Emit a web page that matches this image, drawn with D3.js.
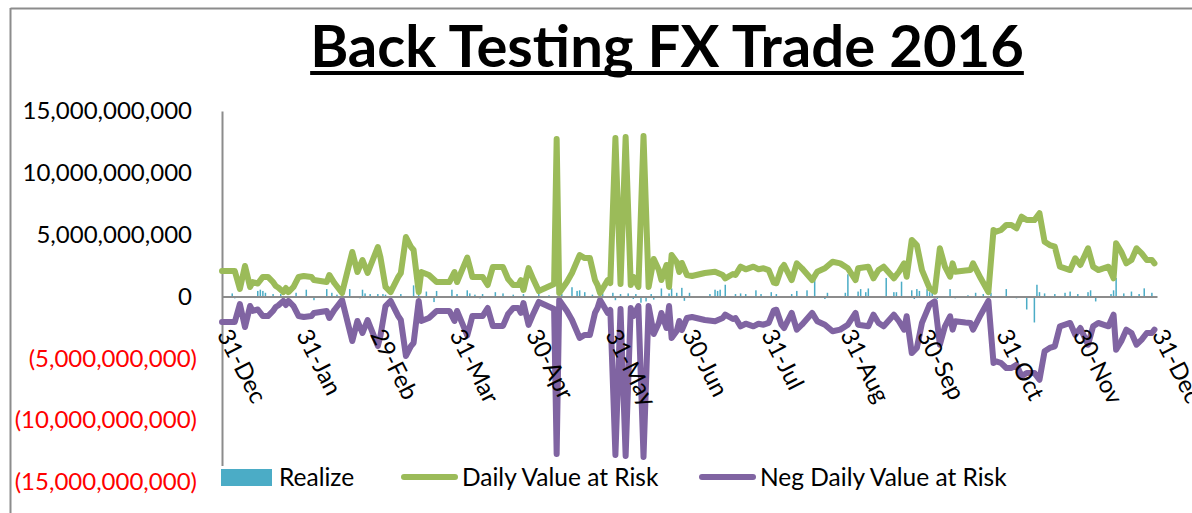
<!DOCTYPE html>
<html>
<head>
<meta charset="utf-8">
<script src="https://cdn.jsdelivr.net/npm/d3@7"></script>
<style>
  html, body { margin: 0; padding: 0; background: #fff; }
  svg { display: block; font-family: Lato, "Open Sans", sans-serif; }
</style>
</head>
<body>
<svg id="chart" width="1192" height="513"></svg>
<script>
// x values are days after 31-Dec-2015, values in billions
var varDays = [0, 5, 7, 9, 11, 12, 14, 16, 18, 20, 21, 22, 24, 25, 26, 28, 30, 32, 35, 36,
    41, 42, 44, 47, 51, 53, 55, 57, 61, 62, 64, 66, 69, 70, 72, 74, 75, 77, 78, 81,
    84, 89, 91, 92, 96, 97, 98, 102, 104, 106, 110, 112, 114, 116, 117, 118, 120, 122, 124, 130,
    131, 132, 135, 137, 140, 142, 144, 146, 147, 148, 151, 152, 154, 156, 158, 160, 161, 163, 165, 167,
    169, 171, 172, 174, 175, 176, 178, 179, 180, 182, 184, 189, 193, 196, 197, 200, 201, 203, 205, 208,
    210, 212, 214, 216, 217, 219, 220, 223, 225, 227, 231, 233, 236, 239, 242, 245, 248, 249, 253, 255,
    257, 259, 263, 265, 267, 268, 270, 272, 274, 277, 279, 281, 283, 285, 286, 287, 291, 293, 294, 297,
    300, 302, 303, 305, 307, 309, 311, 313, 315, 318, 320, 322, 324, 326, 328, 330, 332, 334, 336, 339,
    341, 343, 345, 347, 349, 350, 352, 354, 356, 358, 360, 362, 364, 365];

var varBn = [2.06, 2.06, 0.61, 2.47, 0.77, 1.17, 1.05, 1.58, 1.58, 1.17, 0.85, 0.73, 0.36, 0.69, 0.36, 0.77, 1.58, 1.66, 1.58, 1.33,
    1.17, 1.74, 1.09, 0.28, 3.60, 1.98, 2.95, 1.90, 4.00, 3.19, 0.77, 0.36, 1.58, 1.90, 4.81, 4.00, 3.76, 0.36, 1.98, 1.74,
    1.17, 1.17, 1.98, 1.17, 3.15, 2.38, 1.58, 1.58, 0.93, 2.38, 2.38, 1.41, 0.93, 0.93, 1.33, 0.53, 2.30, 1.33, 0.44, 1.01,
    12.73, 0.28, 1.17, 1.90, 3.35, 3.11, 3.11, 1.33, 0.93, 0.28, 1.33, 1.09, 12.81, 1.01, 12.89, 0.93, 1.58, 0.77, 12.97, 0.77,
    3.03, 2.14, 1.33, 2.55, 0.77, 3.35, 2.79, 1.98, 2.71, 1.74, 1.66, 1.90, 2.00, 1.74, 1.47, 1.82, 1.74, 2.41, 2.20, 2.41,
    2.20, 2.28, 2.14, 1.12, 1.07, 2.28, 2.55, 1.33, 2.68, 2.28, 1.33, 2.00, 2.28, 2.81, 2.68, 2.28, 1.33, 2.28, 2.41, 1.47,
    2.14, 2.41, 1.47, 2.00, 2.68, 1.60, 4.57, 4.16, 2.14, 0.66, 0.39, 3.90, 2.41, 1.60, 2.68, 2.00, 2.10, 2.14, 2.68, 1.47,
    0.36, 5.38, 5.24, 5.38, 5.78, 5.78, 5.51, 6.45, 6.18, 6.18, 6.73, 4.43, 4.16, 4.03, 2.41, 2.28, 2.14, 3.09, 2.55, 3.90,
    2.41, 2.14, 2.28, 2.41, 1.47, 4.30, 3.62, 2.68, 2.95, 3.90, 3.49, 2.95, 2.95, 2.68];

var negVarBn = [-2.06, -2.06, -0.61, -2.47, -0.77, -1.17, -1.05, -1.58, -1.58, -1.17, -0.85, -0.73, -0.36, -0.69, -0.36, -0.77, -1.58, -1.66, -1.58, -1.33,
    -1.17, -1.74, -1.09, -0.28, -3.60, -1.98, -2.95, -1.90, -4.00, -3.19, -0.77, -0.36, -1.58, -1.90, -4.81, -4.00, -3.76, -0.36, -1.98, -1.74,
    -1.17, -1.17, -1.98, -1.17, -3.15, -2.38, -1.58, -1.58, -0.93, -2.38, -2.38, -1.41, -0.93, -0.93, -1.33, -0.53, -2.30, -1.33, -0.44, -1.01,
    -12.73, -0.28, -1.17, -1.90, -3.35, -3.11, -3.11, -1.33, -0.93, -0.28, -1.33, -1.09, -12.81, -1.01, -12.89, -0.93, -1.58, -0.77, -12.97, -0.77,
    -3.03, -2.14, -1.33, -2.55, -0.77, -3.35, -2.79, -1.98, -2.71, -1.74, -1.66, -1.90, -2.00, -1.74, -1.47, -1.82, -1.74, -2.41, -2.20, -2.41,
    -2.20, -2.28, -2.14, -1.12, -1.07, -2.28, -2.55, -1.33, -2.68, -2.28, -1.33, -2.00, -2.28, -2.81, -2.68, -2.28, -1.33, -2.28, -2.41, -1.47,
    -2.14, -2.41, -1.47, -2.00, -2.68, -1.60, -4.57, -4.16, -2.14, -0.66, -0.39, -3.90, -2.41, -1.60, -2.68, -2.00, -2.10, -2.14, -2.68, -1.47,
    -0.36, -5.38, -5.24, -5.38, -5.78, -5.78, -5.51, -6.45, -6.18, -6.18, -6.73, -4.43, -4.16, -4.03, -2.41, -2.28, -2.14, -3.09, -2.55, -3.90,
    -2.41, -2.14, -2.28, -2.41, -1.47, -4.30, -3.62, -2.68, -2.95, -3.90, -3.49, -2.95, -2.95, -2.68];

var realizeDays = [4, 5, 14, 15, 16, 17, 20, 23, 29, 33, 36, 41, 43, 45, 50, 54, 55, 56, 58, 61,
    63, 64, 70, 75, 77, 80, 83, 84, 90, 92, 96, 97, 99, 101, 102, 107, 110, 114, 118, 124,
    128, 133, 137, 139, 140, 142, 145, 149, 153, 154, 156, 159, 161, 162, 164, 166, 168, 169, 172, 175,
    176, 178, 180, 181, 183, 191, 193, 194, 195, 197, 201, 203, 205, 209, 211, 215, 217, 223, 225, 229,
    232, 236, 237, 244, 245, 249, 250, 252, 253, 260, 263, 264, 266, 270, 271, 272, 273, 276, 277, 278,
    280, 285, 287, 292, 295, 298, 301, 307, 311, 315, 318, 319, 320, 322, 326, 330, 332, 335, 339, 340,
    342, 348, 349, 350, 353, 356, 359, 361, 364];

var realizeBn = [0.25, -0.15, 0.45, 0.55, 0.45, 0.3, 0.2, 0.2, 0.3, 0.55, -0.3, 0.6, 0.3, 0.15, 0.6, -0.15, 0.55, 0.25, 0.2, 0.2,
    0.2, 0.15, 0.2, 0.9, 0.2, 0.4, -0.45, 0.45, 0.55, 0.2, 0.5, 0.25, 0.15, -0.15, 0.2, 0.35, 0.25, 0.15, 0.2, 0.2,
    0.1, 0.2, 0.75, 0.45, 0.5, 0.35, 0.15, 0.25, 0.3, -0.3, 0.2, 0.25, -0.2, 0.2, -0.5, -0.4, 0.2, -0.25, 0.65, 0.25,
    0.65, 0.3, 0.7, -0.35, 0.3, 0.2, 0.55, 0.45, 0.55, 0.95, 0.2, 0.25, 0.2, 0.5, 0.2, 0.35, 0.2, 0.2, 0.45, 0.5,
    2.0, -0.2, 0.3, 0.3, 1.8, 0.4, 0.6, 0.35, 0.65, 1.5, 0.35, 0.35, 1.2, 0.5, -0.2, 0.6, 0.45, 0.6, 0.35, 0.3,
    -0.2, 0.6, -0.15, 0.1, 0.3, 0.2, 0.3, 0.6, -0.15, -1.05, -2.1, 0.95, 0.35, 0.25, 0.2, 0.3, 0.4, 0.2, 0.35, 0.5,
    -0.4, 0.2, 0.5, 1.5, 0.25, 0.4, 0.2, 0.66, 0.3];

var tickDates = ["2015-12-31", "2016-01-31", "2016-02-29", "2016-03-31", "2016-04-30", "2016-05-31", "2016-06-30",
    "2016-07-31", "2016-08-31", "2016-09-30", "2016-10-31", "2016-11-30", "2016-12-31"];
var yTicks = [15e9, 10e9, 5e9, 0, -5e9, -10e9, -15e9];
var seriesNames = ["Realize", "Daily Value at Risk", "Neg Daily Value at Risk"];
var colors = ["#4bacc6", "#9bbb59", "#8064a2"];

var svg = d3.select("#chart");
var parse = d3.timeParse("%Y-%m-%d");
var start = parse("2015-12-31");
var toDate = function(d) { return d3.timeDay.offset(start, d); };

var x = d3.scaleTime()
    .domain([start, parse("2016-12-31")])
    .range([222, 1157]);

var y = d3.scaleLinear()
    .domain([-15e9, 15e9])
    .range([482, 111]);

// chart frame
svg.append("line").attr("x1", 10.5).attr("x2", 1192).attr("y1", 8.5).attr("y2", 8.5)
    .attr("stroke", "#8c8c8c").attr("stroke-width", 2);
svg.append("line").attr("x1", 10.5).attr("x2", 10.5).attr("y1", 8).attr("y2", 513)
    .attr("stroke", "#8c8c8c").attr("stroke-width", 2);

// title
var title = svg.append("text")
    .attr("x", 667)
    .attr("y", 67)
    .attr("text-anchor", "middle")
    .style("font-size", "58px")
    .style("font-weight", "bold")
    .text("Back Testing FX Trade 2016");
var tb = title.node().getBBox();
svg.append("rect")
    .attr("x", tb.x).attr("y", 71)
    .attr("width", tb.width).attr("height", 4)
    .attr("fill", "#000");

// realize bars
svg.append("g").selectAll("rect")
    .data(realizeDays)
    .enter()
    .append("rect")
    .attr("x", function(d) { return x(toDate(d)) - 0.75; })
    .attr("y", function(d, i) { return y(Math.max(0, realizeBn[i] * 1e9)); })
    .attr("width", 1.5)
    .attr("height", function(d, i) { return Math.abs(y(realizeBn[i] * 1e9) - y(0)); })
    .attr("fill", colors[0]);

// y axis
var fmt = d3.format(",");
var yAxis = svg.append("g")
    .attr("transform", "translate(222,0)")
    .call(d3.axisLeft(y).tickValues(yTicks).tickSize(0).tickPadding(25)
        .tickFormat(function(d) { return d < 0 ? "(" + fmt(-d) + ")" : fmt(d); }));
yAxis.select(".domain").attr("stroke", "#8c8c8c").attr("stroke-width", 2);
yAxis.selectAll("text")
    .style("font-size", "24px")
    .style("font-family", "Lato")
    .attr("fill", function(d) { return d < 0 ? "#ff0000" : "#000"; })
    .attr("x", function(d) { return d < 0 ? -25 : -30; });

// lines
var line = function(vals) {
    return d3.line()
        .x(function(d) { return x(toDate(d)); })
        .y(function(d, i) { return y(vals[i] * 1e9); });
};
svg.append("path")
    .datum(varDays)
    .attr("d", line(varBn))
    .attr("fill", "none")
    .attr("stroke", colors[1])
    .attr("stroke-width", 6)
    .attr("stroke-linejoin", "round")
    .attr("stroke-linecap", "round");
svg.append("path")
    .datum(varDays)
    .attr("d", line(negVarBn))
    .attr("fill", "none")
    .attr("stroke", colors[2])
    .attr("stroke-width", 6)
    .attr("stroke-linejoin", "round")
    .attr("stroke-linecap", "round");

// x axis on the zero line, labels drawn over the lines
var xAxis = svg.append("g")
    .attr("transform", "translate(0," + y(0) + ")")
    .call(d3.axisBottom(x).tickValues(tickDates.map(parse)).tickSize(0)
        .tickFormat(d3.timeFormat("%d-%b")));
xAxis.select(".domain").attr("stroke", "#8c8c8c").attr("stroke-width", 2);
xAxis.selectAll("text")
    .style("font-size", "24px")
    .style("font-family", "Lato")
    .attr("fill", "#000")
    .attr("text-anchor", "start")
    .attr("x", 0).attr("y", 0).attr("dy", 0)
    .attr("transform", "translate(-6,38) rotate(63)");

// legend
var legend = svg.append("g");
legend.append("rect").attr("x", 215).attr("y", 466).attr("width", 800).attr("height", 26).attr("fill", "#fff");
var legX = [221, 402, 700];
var legTextX = [279, 462, 760];
seriesNames.forEach(function(name, i) {
    if (i == 0) {
        legend.append("rect").attr("x", legX[i]).attr("y", 469).attr("width", 51).attr("height", 17).attr("fill", colors[i]);
    } else {
        legend.append("line").attr("x1", legX[i] + 2).attr("x2", legX[i] + 53)
            .attr("y1", 477).attr("y2", 477)
            .attr("stroke", colors[i]).attr("stroke-width", 6).attr("stroke-linecap", "round");
    }
    legend.append("text")
        .attr("x", legTextX[i])
        .attr("y", 486)
        .style("font-size", "24.5px")
        .text(name);
});
</script>
</body>
</html>
